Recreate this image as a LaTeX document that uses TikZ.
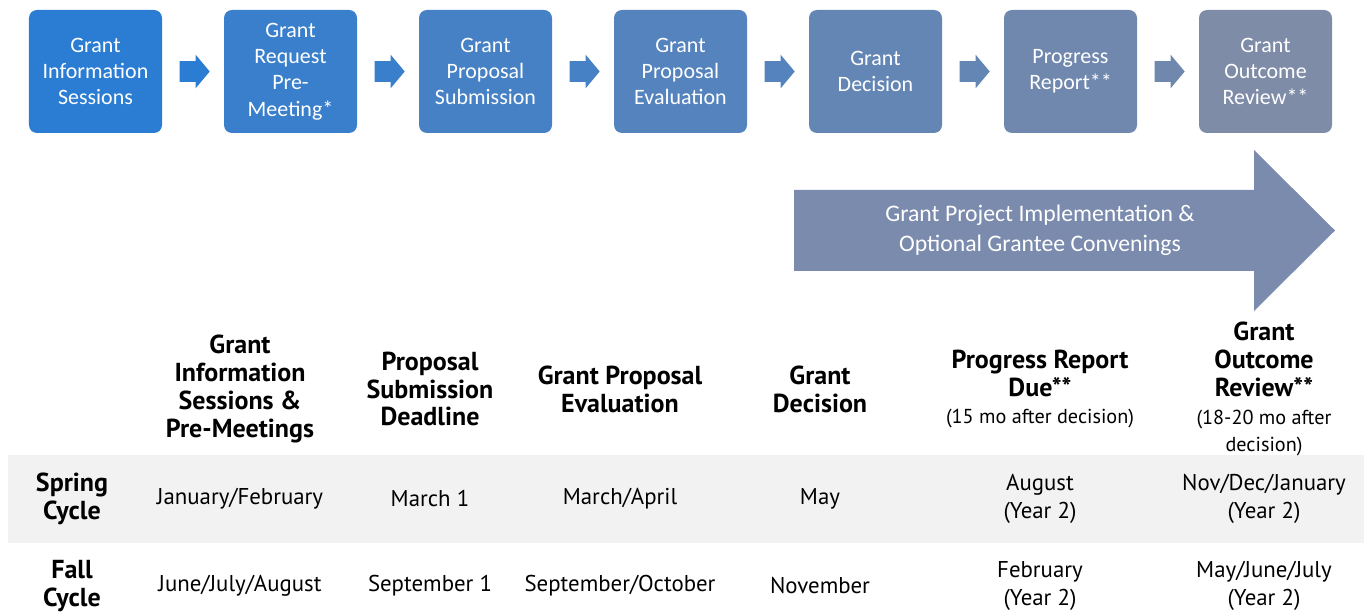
\documentclass[tikz,border=0pt]{standalone}
\usepackage{fontspec}
\setmainfont{PT Sans}
\newfontfamily\boxfont{Carlito}
\usetikzlibrary{positioning,shapes.arrows}

\definecolor{stepA}{HTML}{2B7CD3}
\definecolor{stepB}{HTML}{3A7FCB}
\definecolor{stepC}{HTML}{4681C5}
\definecolor{stepD}{HTML}{5483BE}
\definecolor{stepE}{HTML}{6386B5}
\definecolor{stepF}{HTML}{7088AE}
\definecolor{stepG}{HTML}{7F8CA7}
\definecolor{implblue}{HTML}{7B8BAD}
\definecolor{bandgray}{HTML}{F2F2F2}
\newcommand\subnote{\fontsize{11.5}{13.6}\selectfont\mdseries}

\begin{document}
\begin{tikzpicture}[x=0.2mm, y=-0.2mm,
  stepbox/.style={rounded corners=1.6mm, minimum width=26.6mm, minimum height=24.6mm, align=center, text=white, inner sep=0pt, font=\boxfont\fontsize{12.5}{15}\selectfont},
  chev/.style={single arrow, anchor=tail, minimum height=6mm, inner xsep=0pt, inner ysep=2mm, single arrow head extend=1.3mm, single arrow tip angle=100},
  head/.style={align=center, font=\fontsize{14.8}{15.9}\selectfont\bfseries},
  cell/.style={align=center, font=\fontsize{13}{15.9}\selectfont}
]
\useasboundingbox (0,0) rectangle (1364,613);

% process steps
\node[stepbox, fill=stepA] (s1) at (95.5,71.5) {Grant\\Information\\Sessions};
\node[stepbox, fill=stepB] (s2) at (290.5,71.5) {Grant\\Request\\Pre-\\Meeting*};
\node[stepbox, fill=stepC] (s3) at (485.5,71.5) {Grant\\Proposal\\Submission};
\node[stepbox, fill=stepD] (s4) at (680.5,71.5) {Grant\\Proposal\\Evaluation};
\node[stepbox, fill=stepE] (s5) at (875.5,71.5) {Grant\\Decision};
\node[stepbox, fill=stepF] (s6) at (1070.5,71.5) {Progress\\Report**};
\node[stepbox, fill=stepG] (s7) at (1265.5,71.5) {Grant\\Outcome\\Review**};

\node[chev, fill=stepA] (c1) at ([xshift=3.4mm]s1.east) {};
\node[chev, fill=stepB] (c2) at ([xshift=3.4mm]s2.east) {};
\node[chev, fill=stepC] (c3) at ([xshift=3.4mm]s3.east) {};
\node[chev, fill=stepD] (c4) at ([xshift=3.4mm]s4.east) {};
\node[chev, fill=stepE] (c5) at ([xshift=3.4mm]s5.east) {};
\node[chev, fill=stepF] (c6) at ([xshift=3.4mm]s6.east) {};

% implementation arrow
\fill[implblue] (794,190) -- (1254,190) -- (1254,150) -- (1335,230.5) -- (1254,311) -- (1254,271) -- (794,271) -- cycle;
\node[align=center, text=white, font=\boxfont\fontsize{13.5}{17}\selectfont] (impl) at (1040,230) {Grant Project Implementation \&\\Optional Grantee Convenings};

% table
\fill[bandgray] (8,455) rectangle (1364,543);

\node[head] (h1) at (240,389) {Grant\\Information\\Sessions \&\\Pre-Meetings};
\node[head] (h2) at (430,389) {Proposal\\Submission\\Deadline};
\node[head] (h3) at (620,389) {Grant Proposal\\Evaluation};
\node[head] (h4) at (820,389) {Grant\\Decision};
\node[head] (h5) at (1040,389) {Progress Report\\Due**\\{\subnote (15 mo after decision)}};
\node[head] (h6) at (1264,389) {Grant\\Outcome\\Review**\\{\subnote (18-20 mo after}\\{\subnote decision)}};

\node[head] (spring) at (72,499) {Spring\\Cycle};
\node[cell] (sp1) at (240,499) {January/February};
\node[cell] (sp2) at (430,499) {March 1};
\node[cell] (sp3) at (620,499) {March/April};
\node[cell] (sp4) at (820,499) {May};
\node[cell] (sp5) at (1040,499) {August\\(Year 2)};
\node[cell] (sp6) at (1264,499) {Nov/Dec/January\\(Year 2)};

\node[head] (fall) at (72,586) {Fall\\Cycle};
\node[cell] (fa1) at (240,586) {June/July/August};
\node[cell] (fa2) at (430,586) {September 1};
\node[cell] (fa3) at (620,586) {September/October};
\node[cell] (fa4) at (820,586) {November};
\node[cell] (fa5) at (1040,586) {February\\(Year 2)};
\node[cell] (fa6) at (1264,586) {May/June/July\\(Year 2)};
\end{tikzpicture}
\end{document}
